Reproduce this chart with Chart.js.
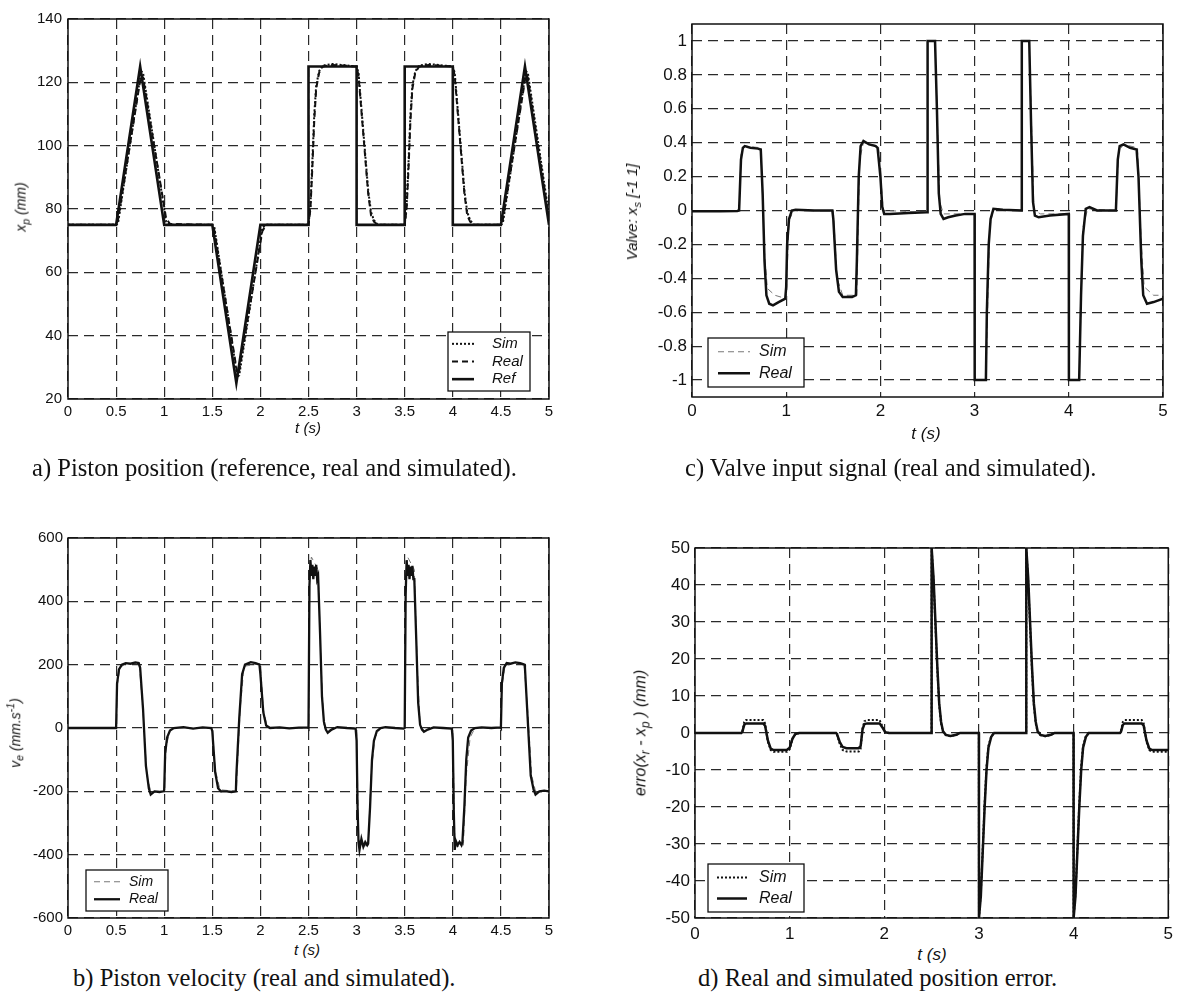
<!DOCTYPE html>
<html>
<head>
<meta charset="utf-8">
<script src="https://cdn.jsdelivr.net/npm/chart.js@4.4.1/dist/chart.umd.min.js"></script>
<style>
  body { margin: 0; background: #fff; }
  #page { position: relative; width: 1179px; height: 994px; overflow: hidden; color: #111;
          font-family: "Liberation Sans", Arial, Helvetica, sans-serif; }
  canvas { position: absolute; }
  .cap { position: absolute; font-family: "Liberation Serif", "Times New Roman", serif; font-size: 24.6px;
         line-height: 1; white-space: nowrap; }
  .ax { position: absolute; font-style: italic; white-space: nowrap; }
  .ylab { transform: translate(-50%, -50%) rotate(-90deg); }
  .xlab { transform: translate(-50%, -50%); }
  sub, sup { font-size: 75%; }
</style>
</head>
<body>
<div id="page">
  <canvas id="chartA" width="580" height="440" style="left:0;top:0"></canvas>
  <canvas id="chartC" width="579" height="440" style="left:600px;top:0"></canvas>
  <canvas id="chartB" width="580" height="470" style="left:0;top:470px"></canvas>
  <canvas id="chartD" width="579" height="470" style="left:600px;top:470px"></canvas>

  <div class="ax ylab" style="left:22px;top:207px;font-size:14px">x<sub>p</sub> (mm)</div>
  <div class="ax xlab" style="left:308px;top:427px;font-size:15px">t (s)</div>
  <div class="cap" style="left:32px;top:456px">a) Piston position (reference, real and simulated).</div>

  <div class="ax ylab" style="left:633px;top:212px;font-size:15px">Valve: x<sub>s</sub> [-1 1]</div>
  <div class="ax xlab" style="left:926px;top:434px;font-size:17px">t (s)</div>
  <div class="cap" style="left:685px;top:456px">c) Valve input signal (real and simulated).</div>

  <div class="ax ylab" style="left:15px;top:733px;font-size:14px">v<sub>e</sub> (mm.s<sup>-1</sup>)</div>
  <div class="ax xlab" style="left:307px;top:949px;font-size:15px">t (s)</div>
  <div class="cap" style="left:73px;top:966px">b) Piston velocity (real and simulated).</div>

  <div class="ax ylab" style="left:642px;top:733px;font-size:16px">erro(x<sub>r</sub> - x<sub>p</sub> ) (mm)</div>
  <div class="ax xlab" style="left:932px;top:955px;font-size:17px">t (s)</div>
  <div class="cap" style="left:698px;top:966px">d) Real and simulated position error.</div>
</div>

<script>
// ---- a) piston position [t (s), x_p (mm)]
const posRef = [[0,75],[0.5,75],[0.75,125],[1.0,75],[1.5,75],[1.75,25],[2.0,75],[2.5,75],[2.5,125],
  [3.0,125],[3.0,75],[3.5,75],[3.5,125],[4.0,125],[4.0,75],[4.5,75],[4.75,125],[5.0,75]];
const posReal = [[0,75],[0.5,75],[0.52,76.5],[0.76,122.5],[0.78,121.5],[1.02,77],[1.06,75.3],[1.5,75],
  [1.52,73.5],[1.76,28],[1.78,29],[2.02,73],[2.06,75],[2.5,75],[2.52,80],[2.54,93],[2.56,108],[2.58,118],
  [2.61,123],[2.65,125],[2.75,125.5],[3.0,125],[3.02,122],[3.12,85],[3.15,78],[3.18,76],[3.22,75],
  [3.5,75],[3.52,80],[3.54,93],[3.56,108],[3.58,118],[3.61,123],[3.65,125],[3.75,125.5],[4.0,125],
  [4.02,122],[4.12,85],[4.15,78],[4.18,76],[4.22,75],[4.5,75],[4.52,76.5],[4.76,122.5],[4.78,121.5],[5.0,77]];
const posSim = [[0,75],[0.5,75],[0.52,75.5],[0.76,123.5],[0.78,123],[1.02,76],[1.06,75],[1.5,75],
  [1.52,74.5],[1.76,27],[1.78,27.5],[2.02,74],[2.06,75],[2.5,75],[2.52,81],[2.54,95],[2.56,110],[2.58,119],
  [2.61,123.5],[2.65,125.3],[2.75,125.8],[3.0,125],[3.02,123],[3.12,86],[3.15,79],[3.18,76.5],[3.22,75],
  [3.5,75],[3.52,81],[3.54,95],[3.56,110],[3.58,119],[3.61,123.5],[3.65,125.3],[3.75,125.8],[4.0,125],
  [4.02,123],[4.12,86],[4.15,79],[4.18,76.5],[4.22,75],[4.5,75],[4.52,75.5],[4.76,123.5],[4.78,123],[5.0,78]];

// ---- b) piston velocity [t (s), v_e (mm/s)]
const velReal = [[0,0],[0.25,0],[0.5,0],[0.51,140],[0.53,185],[0.56,200],[0.6,205],[0.65,203],[0.7,207],
  [0.735,205],[0.75,190],[0.78,60],[0.81,-120],[0.84,-190],[0.86,-210],[0.9,-200],[0.95,-202],[0.995,-200],
  [1.0,-195],[1.01,-80],[1.03,-30],[1.06,-8],[1.1,0],[1.2,3],[1.3,-2],[1.4,2],[1.49,0],[1.5,-10],[1.53,-140],
  [1.56,-190],[1.59,-200],[1.65,-200],[1.7,-202],[1.745,-200],[1.75,-150],[1.78,30],[1.81,170],[1.84,200],
  [1.9,208],[1.95,205],[1.99,200],[2.0,170],[2.03,50],[2.06,8],[2.1,0],[2.2,2],[2.3,-1],[2.4,1],[2.495,2],
  [2.5,0],[2.51,450],[2.52,530],[2.53,480],[2.54,515],[2.55,470],[2.56,510],[2.57,480],[2.58,515],[2.59,470],
  [2.6,480],[2.62,300],[2.64,100],[2.66,20],[2.68,-5],[2.7,-15],[2.74,-5],[2.8,3],[2.9,0],[2.99,-2],
  [3.0,-40],[3.01,-250],[3.02,-360],[3.03,-385],[3.05,-350],[3.07,-375],[3.09,-360],[3.11,-370],[3.12,-365],
  [3.14,-250],[3.16,-100],[3.18,-40],[3.21,-10],[3.25,0],[3.3,3],[3.4,0],[3.49,-2],[3.5,0],[3.51,420],
  [3.52,530],[3.53,480],[3.54,515],[3.55,470],[3.56,510],[3.57,480],[3.58,512],[3.59,470],[3.6,470],
  [3.62,280],[3.64,80],[3.66,10],[3.68,-5],[3.7,-12],[3.74,-5],[3.8,2],[3.9,0],[3.99,-2],[4.0,-40],
  [4.01,-260],[4.02,-385],[4.03,-355],[4.05,-370],[4.07,-360],[4.09,-370],[4.1,-360],[4.12,-250],[4.14,-100],
  [4.16,-30],[4.19,-8],[4.23,0],[4.3,2],[4.4,0],[4.495,2],[4.5,0],[4.51,140],[4.53,190],[4.56,205],[4.6,203],
  [4.65,207],[4.7,205],[4.745,200],[4.75,190],[4.78,20],[4.81,-150],[4.84,-195],[4.86,-210],[4.9,-200],
  [4.95,-198],[5.0,-200]];
const velSim = [[0,0],[0.5,0],[0.51,130],[0.54,190],[0.6,204],[0.74,204],[0.78,50],[0.82,-150],[0.86,-200],
  [1.0,-200],[1.02,-60],[1.06,-8],[1.1,0],[1.5,0],[1.53,-130],[1.58,-195],[1.75,-200],[1.79,60],[1.83,195],
  [2.0,203],[2.03,60],[2.07,5],[2.1,0],[2.5,0],[2.51,480],[2.53,540],[2.6,500],[2.63,200],[2.66,10],
  [2.7,-8],[2.8,0],[3.0,0],[3.02,-340],[3.04,-375],[3.12,-370],[3.15,-150],[3.19,-30],[3.25,0],[3.5,0],
  [3.51,480],[3.53,540],[3.6,500],[3.63,200],[3.66,10],[3.7,-8],[3.8,0],[4.0,0],[4.02,-340],[4.04,-375],
  [4.11,-370],[4.14,-150],[4.18,-30],[4.23,0],[4.5,0],[4.51,130],[4.54,190],[4.6,204],[4.74,204],
  [4.78,50],[4.82,-150],[4.86,-200],[5.0,-200]];

// ---- c) valve input signal [t (s), x_s]
const valveReal = [[0,-0.005],[0.3,-0.005],[0.48,-0.003],[0.5,0],[0.52,0.3],[0.54,0.37],[0.56,0.38],
  [0.62,0.37],[0.7,0.365],[0.73,0.36],[0.75,0.1],[0.77,-0.3],[0.79,-0.5],[0.82,-0.55],[0.86,-0.56],
  [0.92,-0.54],[0.99,-0.52],[1.0,-0.45],[1.01,-0.2],[1.03,-0.05],[1.06,0],[1.1,0.005],[1.3,0],[1.49,0],
  [1.5,-0.05],[1.53,-0.35],[1.56,-0.48],[1.6,-0.51],[1.7,-0.51],[1.74,-0.5],[1.75,-0.3],[1.77,0.2],
  [1.79,0.38],[1.82,0.41],[1.88,0.39],[1.95,0.38],[1.97,0.37],[2.0,0.2],[2.02,0.02],[2.04,-0.02],
  [2.1,-0.02],[2.3,-0.015],[2.49,-0.01],[2.5,-0.01],[2.501,1],[2.58,1],[2.6,0.6],[2.62,0.1],[2.64,-0.02],
  [2.67,-0.05],[2.72,-0.04],[2.8,-0.03],[2.9,-0.02],[3.0,-0.02],[3.001,-1],[3.12,-1],[3.13,-0.6],
  [3.15,-0.2],[3.17,-0.05],[3.2,0.01],[3.3,0.005],[3.5,0],[3.501,1],[3.58,1],[3.6,0.5],[3.62,0.05],
  [3.64,-0.03],[3.68,-0.04],[3.8,-0.03],[4.0,-0.02],[4.001,-1],[4.11,-1],[4.13,-0.5],[4.15,-0.15],
  [4.18,0.01],[4.22,0.02],[4.3,0],[4.5,0],[4.52,0.3],[4.54,0.38],[4.58,0.39],[4.65,0.37],[4.72,0.36],
  [4.74,0.2],[4.77,-0.3],[4.79,-0.5],[4.83,-0.55],[4.9,-0.54],[5.0,-0.52]];
const valveSim = [[0,0],[0.5,0],[0.52,0.33],[0.56,0.38],[0.73,0.37],[0.77,-0.25],[0.8,-0.46],[0.88,-0.5],
  [1.0,-0.52],[1.03,-0.06],[1.08,0],[1.5,0],[1.54,-0.4],[1.6,-0.5],[1.75,-0.5],[1.78,0.3],[1.82,0.4],
  [1.98,0.38],[2.03,0],[2.5,-0.01],[2.501,1],[2.58,1],[2.63,0.05],[2.67,-0.02],[3.0,-0.02],[3.001,-1],
  [3.12,-1],[3.16,-0.1],[3.2,0.01],[3.5,0],[3.501,1],[3.58,1],[3.63,0],[3.7,-0.02],[4.0,-0.02],
  [4.001,-1],[4.11,-1],[4.15,-0.1],[4.2,0.01],[4.5,0],[4.53,0.35],[4.58,0.39],[4.73,0.37],[4.77,-0.2],
  [4.8,-0.45],[4.9,-0.5],[5.0,-0.5]];

// ---- d) position error [t (s), x_r - x_p (mm)]
const errReal = [[0,0],[0.49,0],[0.5,0.3],[0.52,2.2],[0.54,2.6],[0.72,2.6],[0.74,2.0],[0.77,-2],[0.8,-4.2],
  [0.83,-4.6],[0.97,-4.6],[1.0,-4.0],[1.03,-1.5],[1.06,-0.3],[1.1,0],[1.49,0],[1.5,-0.3],[1.53,-2.5],
  [1.56,-3.8],[1.6,-4.1],[1.73,-4.1],[1.75,-3.5],[1.77,1],[1.79,2.4],[1.82,2.6],[1.95,2.6],[1.98,1.5],
  [2.01,0.2],[2.05,0],[2.499,0],[2.5,50],[2.52,42],[2.54,30],[2.56,18],[2.58,8],[2.6,3],[2.62,0.5],
  [2.65,-0.5],[2.7,-0.8],[2.76,-0.5],[2.8,0],[2.999,0],[3.0,-50],[3.02,-44],[3.04,-32],[3.06,-20],
  [3.08,-10],[3.1,-4],[3.13,-1],[3.16,0],[3.3,0],[3.499,0],[3.5,50],[3.52,42],[3.54,30],[3.56,18],
  [3.58,8],[3.6,3],[3.62,0.5],[3.65,-0.5],[3.7,-0.8],[3.76,-0.5],[3.8,0],[3.999,0],[4.0,-50],[4.02,-44],
  [4.04,-32],[4.06,-20],[4.08,-10],[4.1,-4],[4.13,-1],[4.16,0],[4.3,0],[4.49,0],[4.5,0.3],[4.52,2.2],
  [4.54,2.6],[4.72,2.6],[4.74,2.0],[4.77,-2],[4.8,-4.2],[4.83,-4.6],[5.0,-4.6]];
const errSim = [[0,0],[0.49,0],[0.5,0.4],[0.52,3],[0.54,3.5],[0.72,3.5],[0.74,2.6],[0.77,-2.4],[0.8,-4.6],
  [0.83,-5.1],[0.97,-5.1],[1.0,-4.4],[1.03,-1.6],[1.06,-0.3],[1.1,0],[1.49,0],[1.5,-0.4],[1.53,-3],
  [1.56,-4.6],[1.6,-5],[1.73,-5],[1.75,-4.2],[1.77,1.2],[1.79,3.2],[1.82,3.5],[1.95,3.5],[1.98,1.8],
  [2.01,0.2],[2.05,0],[2.499,0],[2.5,50],[2.52,41],[2.54,29],[2.56,17],[2.58,7.5],[2.6,2.5],[2.62,0.3],
  [2.65,-0.6],[2.7,-0.9],[2.76,-0.5],[2.8,0],[2.999,0],[3.0,-50],[3.02,-43],[3.04,-31],[3.06,-19],
  [3.08,-9],[3.1,-3.5],[3.13,-0.8],[3.16,0],[3.3,0],[3.499,0],[3.5,50],[3.52,41],[3.54,29],[3.56,17],
  [3.58,7.5],[3.6,2.5],[3.62,0.3],[3.65,-0.6],[3.7,-0.9],[3.76,-0.5],[3.8,0],[3.999,0],[4.0,-50],[4.02,-43],
  [4.04,-31],[4.06,-19],[4.08,-9],[4.1,-3.5],[4.13,-0.8],[4.16,0],[4.3,0],[4.49,0],[4.5,0.4],[4.52,3],
  [4.54,3.5],[4.72,3.5],[4.74,2.6],[4.77,-2.4],[4.8,-4.6],[4.83,-5.1],[5.0,-5.1]];

// ---- tick values
const tTicksHalf = [0, 0.5, 1, 1.5, 2, 2.5, 3, 3.5, 4, 4.5, 5];
const tTicksWhole = [0, 1, 2, 3, 4, 5];
const posTicks = [20, 40, 60, 80, 100, 120, 140];
const velTicks = [-600, -400, -200, 0, 200, 400, 600];
const valveTicks = [-1, -0.8, -0.6, -0.4, -0.2, 0, 0.2, 0.4, 0.6, 0.8, 1];
const errTicks = [-50, -40, -30, -20, -10, 0, 10, 20, 30, 40, 50];

const FONT = '"Liberation Sans", Arial, Helvetica, sans-serif';
const toXY = pts => pts.map(p => ({ x: p[0], y: p[1] }));
const fmt = v => String(+(+v).toFixed(2));

// box round the axes + MATLAB style legend
const frameLegend = {
  id: 'frameLegend',
  afterDatasetsDraw(chart, args, o) {
    const { ctx, chartArea: a } = chart;
    ctx.save();
    ctx.setLineDash([]);
    ctx.strokeStyle = '#111';
    ctx.lineWidth = 1.5;
    ctx.strokeRect(a.left, a.top, a.right - a.left, a.bottom - a.top);

    const items = chart.data.datasets;
    const x = o.corner === 'br' ? a.right - o.offX - o.w : a.left + o.offX;
    const y = a.bottom - o.offY - o.h;
    ctx.fillStyle = '#fff';
    ctx.fillRect(x, y, o.w, o.h);
    ctx.lineWidth = 1.3;
    ctx.strokeRect(x, y, o.w, o.h);
    const rowH = (o.h - 2 * o.padY) / items.length;
    items.forEach((ds, i) => {
      const cy = y + o.padY + rowH * (i + 0.5);
      ctx.beginPath();
      ctx.setLineDash(ds.borderDash || []);
      ctx.lineWidth = ds.borderWidth;
      ctx.strokeStyle = ds.borderColor;
      ctx.moveTo(x + o.padX, cy);
      ctx.lineTo(x + o.padX + o.sample, cy);
      ctx.stroke();
      ctx.setLineDash([]);
      ctx.fillStyle = '#111';
      ctx.font = 'italic ' + o.font + 'px ' + FONT;
      ctx.textBaseline = 'middle';
      ctx.fillText(ds.label, x + o.padX + o.sample + o.gap, cy);
    });
    ctx.restore();
  }
};

function buildChart(id, cfg) {
  const axisCommon = {
    type: 'linear',
    grid: { color: '#2a2a2a', lineWidth: 1.2, drawTicks: false },
    border: { display: false, dash: [10, 6] },
    ticks: { color: '#111', font: { family: FONT, size: cfg.tickSize }, autoSkip: false, maxRotation: 0,
             callback: v => fmt(v) }
  };
  return new Chart(document.getElementById(id).getContext('2d'), {
    type: 'line',
    data: {
      datasets: cfg.series.map(s => ({
        label: s.label,
        data: toXY(s.data),
        borderColor: s.color,
        borderWidth: s.width,
        borderDash: s.dash,
        order: s.order,
        pointRadius: 0,
        tension: 0,
        fill: false
      }))
    },
    options: {
      responsive: false,
      animation: false,
      layout: { padding: cfg.padding },
      scales: {
        x: Object.assign({}, axisCommon, {
          min: 0, max: 5,
          ticks: Object.assign({}, axisCommon.ticks, { padding: cfg.xPad }),
          afterBuildTicks: s => { s.ticks = cfg.xTicks.map(v => ({ value: v })); },
          afterFit: s => { s.height = cfg.xAxisH; }
        }),
        y: Object.assign({}, axisCommon, {
          min: cfg.yMin, max: cfg.yMax,
          ticks: Object.assign({}, axisCommon.ticks, { padding: cfg.yPad }),
          afterBuildTicks: s => { s.ticks = cfg.yTicks.map(v => ({ value: v })); },
          afterFit: s => { s.width = cfg.yAxisW; }
        })
      },
      plugins: {
        legend: { display: false },
        tooltip: { enabled: false },
        frameLegend: cfg.legend
      }
    },
    plugins: [frameLegend]
  });
}

buildChart('chartA', {
  series: [
    { label: 'Sim', data: posSim, color: '#111', width: 2, dash: [2, 2], order: 2 },
    { label: 'Real', data: posReal, color: '#111', width: 2, dash: [6, 4], order: 1 },
    { label: 'Ref', data: posRef, color: '#111', width: 2.6, dash: [], order: 0 }
  ],
  xTicks: tTicksHalf, yTicks: posTicks, yMin: 20, yMax: 140, tickSize: 15, xPad: 4, yPad: 6,
  padding: { left: 0, top: 19, right: 31, bottom: 0 }, yAxisW: 68, xAxisH: 41,
  legend: { corner: 'br', offX: 19, offY: 8, w: 82, h: 59, padX: 4, padY: 3, sample: 22, gap: 18, font: 15 }
});

buildChart('chartB', {
  series: [
    { label: 'Sim', data: velSim, color: '#777', width: 1, dash: [6, 4], order: 1 },
    { label: 'Real', data: velReal, color: '#111', width: 2.3, dash: [], order: 0 }
  ],
  xTicks: tTicksHalf, yTicks: velTicks, yMin: -600, yMax: 600, tickSize: 15, xPad: 4, yPad: 5,
  padding: { left: 0, top: 68, right: 31, bottom: 0 }, yAxisW: 68, xAxisH: 22,
  legend: { corner: 'bl', offX: 18, offY: 7, w: 82, h: 41, padX: 8, padY: 3, sample: 26, gap: 9, font: 14 }
});

buildChart('chartC', {
  series: [
    { label: 'Sim', data: valveSim, color: '#777', width: 1, dash: [6, 4], order: 1 },
    { label: 'Real', data: valveReal, color: '#111', width: 2.5, dash: [], order: 0 }
  ],
  xTicks: tTicksWhole, yTicks: valveTicks, yMin: -1.1, yMax: 1.1, tickSize: 17, xPad: 4, yPad: 5,
  padding: { left: 0, top: 24, right: 16, bottom: 0 }, yAxisW: 92, xAxisH: 43,
  legend: { corner: 'bl', offX: 16, offY: 10, w: 96, h: 49, padX: 10, padY: 3, sample: 32, gap: 9, font: 16 }
});

buildChart('chartD', {
  series: [
    { label: 'Sim', data: errSim, color: '#111', width: 2, dash: [2, 2], order: 1 },
    { label: 'Real', data: errReal, color: '#111', width: 2.5, dash: [], order: 0 }
  ],
  xTicks: tTicksWhole, yTicks: errTicks, yMin: -50, yMax: 50, tickSize: 17, xPad: 6, yPad: 5,
  padding: { left: 0, top: 78, right: 5, bottom: 0 }, yAxisW: 95, xAxisH: 22,
  legend: { corner: 'bl', offX: 13, offY: 6, w: 96, h: 48, padX: 9, padY: 3, sample: 30, gap: 12, font: 16 }
});
</script>
</body>
</html>
